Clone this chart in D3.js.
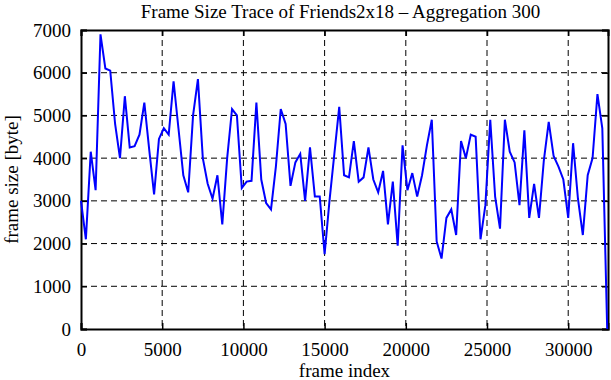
<!DOCTYPE html>
<html lang="en">
<head>
  <meta charset="UTF-8">
  <title>Frame Size Trace</title>
  <script src="https://d3js.org/d3.v7.min.js"></script>
  <style>
    body {
      margin: 0;
      background: #fff;
      font-family: 'Liberation Serif', 'Times New Roman', serif;
    }
    .grid line { stroke: #000; stroke-dasharray: 6,4; stroke-width: 1; }
    .axis text { font-family: 'Liberation Serif', serif; font-size: 19px; fill: #000; }
  </style>
</head>
<body>
  <svg width="611" height="380"></svg>
  <script>
    // frame size per aggregation window of 300 frames
    const step = 300;
    const frameSizes = [
      3000, 2100, 4150, 3250, 6900, 6100, 6050, 4800, 4000, 5450,
      4250, 4280, 4550, 5300, 4200, 3150, 4450, 4700, 4550, 5800,
      4700, 3600, 3200, 5000, 5850, 4000, 3400, 3050, 3600, 2450,
      4000, 5150, 5000, 3300, 3450, 3470, 5300, 3500, 2950, 2800,
      3800, 5150, 4800, 3350, 3900, 4100, 3000, 4250, 3100, 3100,
      1750, 3000, 4100, 5200, 3600, 3550, 4400, 3450, 3550, 4250,
      3500, 3200, 3700, 2450, 3450, 1950, 4300, 3250, 3650, 3100,
      3600, 4300, 4900, 2050, 1650, 2600, 2800, 2200, 4400, 4000,
      4550, 4500, 2100, 2900, 4900, 3100, 2350, 4900, 4150, 3900,
      2900, 4650, 2600, 3400, 2600, 3950, 4850, 4050, 3800, 3500,
      2600, 4350, 3050, 2200, 3600, 4000, 5500, 4700, 0
    ];
    const xTicks = [0, 5000, 10000, 15000, 20000, 25000, 30000];
    const yTicks = [0, 1000, 2000, 3000, 4000, 5000, 6000, 7000];
    const xMax = 32450;

    const margin = {top: 30, right: 3, bottom: 51, left: 81};
    const width = 611 - margin.left - margin.right;
    const height = 380 - margin.top - margin.bottom;

    const svg = d3.select("svg");
    const g = svg.append("g")
      .attr("transform", "translate(" + margin.left + "," + margin.top + ")");

    const x = d3.scaleLinear().domain([0, xMax]).range([0, width]);
    const y = d3.scaleLinear().domain([0, 7000]).range([height, 0]);

    // dashed grid
    const grid = g.append("g").attr("class", "grid");
    grid.selectAll(".h").data(yTicks.slice(1, -1)).enter().append("line")
      .attr("x1", 0).attr("x2", width)
      .attr("y1", d => y(d)).attr("y2", d => y(d));
    grid.selectAll(".v").data(xTicks.slice(1)).enter().append("line")
      .attr("y1", 0).attr("y2", height)
      .attr("x1", d => x(d)).attr("x2", d => x(d));

    // axes, ticks pointing inward
    g.append("g").attr("class", "axis")
      .attr("transform", "translate(0," + height + ")")
      .call(d3.axisBottom(x).tickValues(xTicks).tickSize(-6).tickPadding(14).tickFormat(d3.format("d")));
    g.append("g").attr("class", "axis")
      .call(d3.axisTop(x).tickValues(xTicks).tickSize(-6).tickFormat(""));
    g.append("g").attr("class", "axis")
      .call(d3.axisLeft(y).tickValues(yTicks).tickSize(-6).tickPadding(10).tickFormat(d3.format("d")));
    g.append("g").attr("class", "axis")
      .attr("transform", "translate(" + width + ",0)")
      .call(d3.axisRight(y).tickValues(yTicks).tickSize(-6).tickFormat(""));
    g.selectAll(".axis path").attr("stroke-width", 2);
    g.selectAll(".axis .tick line").attr("stroke-width", 1.5);

    const line = d3.line()
      .x((d, i) => x(i * step))
      .y(d => y(d));

    g.append("path")
      .datum(frameSizes)
      .attr("fill", "none")
      .attr("stroke", "#0000ff")
      .attr("stroke-width", 2)
      .attr("d", line);

    svg.append("text")
      .attr("x", margin.left + width / 2 - 4)
      .attr("y", 18)
      .attr("text-anchor", "middle")
      .style("font-size", "19px")
      .text("Frame Size Trace of Friends2x18 \u2013 Aggregation 300");

    svg.append("text")
      .attr("x", margin.left + width / 2)
      .attr("y", 377)
      .attr("text-anchor", "middle")
      .style("font-size", "19px")
      .text("frame index");

    svg.append("text")
      .attr("transform", "translate(18," + (margin.top + height / 2) + ") rotate(-90)")
      .attr("text-anchor", "middle")
      .style("font-size", "19px")
      .text("frame size [byte]");
  </script>
</body>
</html>
